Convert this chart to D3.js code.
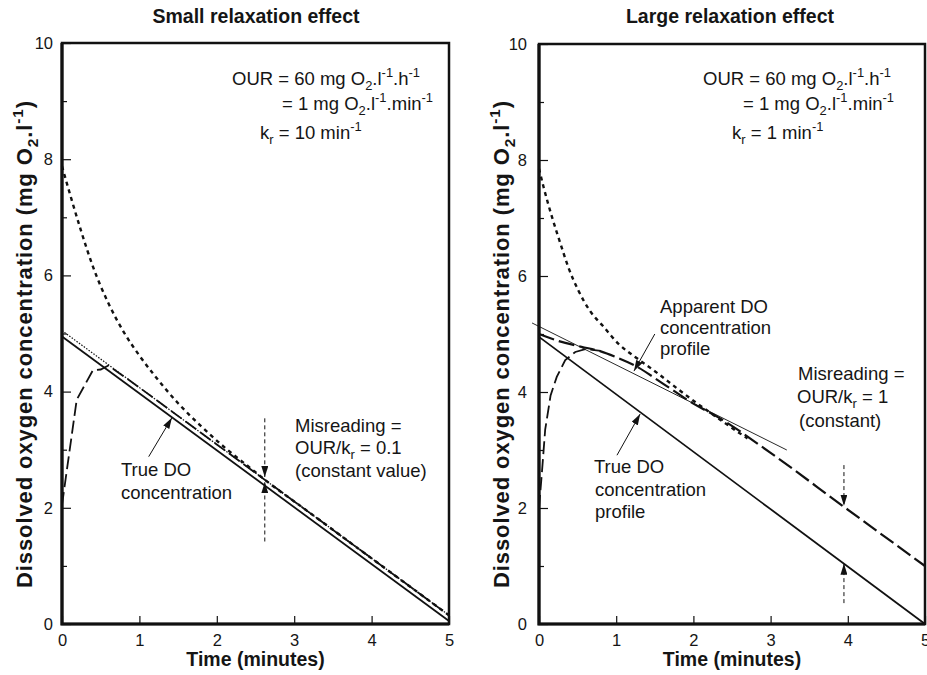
<!DOCTYPE html>
<html>
<head>
<meta charset="utf-8">
<script src="https://cdn.jsdelivr.net/npm/d3@7"></script>
<style>
  body { margin: 0; background: #fff; }
  text { font-family: "Liberation Sans", Arial, Helvetica, sans-serif; fill: #151515; }
</style>
</head>
<body>
<svg id="chart" width="927" height="675"></svg>
<script>
// ---- values (time in minutes, DO in mg O2/l) ----
const timeTicks = [0, 1, 2, 3, 4, 5];
const doMajorTicks = [0, 2, 4, 6, 8, 10];
const doMinorTicks = [1, 3, 5, 7, 9];

// small relaxation effect (kr = 10 min-1)
const smallTrue = [[0, 4.95], [5, 0.05]];
const smallApparentFromTrue = [[0, 5.05], [5, 0.15]];
const smallApparentFromLow = [[0, 2.05], [0.19, 3.86], [0.4, 4.37], [0.5, 4.38], [0.6, 4.45], [1, 4.07], [2, 3.09], [3, 2.11], [4, 1.13], [5, 0.15]];
const smallApparentFromHigh = [[0, 7.88], [0.125, 7.3], [0.25, 6.75], [0.4, 6.15], [0.6, 5.52], [0.8, 5.02], [1, 4.62], [1.2, 4.27], [1.5, 3.8], [1.8, 3.4], [2.1, 3.04], [2.4, 2.72], [2.7, 2.4], [3, 2.11], [4, 1.13], [5, 0.15]];

// large relaxation effect (kr = 1 min-1)
const largeTrue = [[0, 4.95], [5, 0]];
const largeApparent = [[0, 5.0], [0.25, 4.88], [0.55, 4.78], [0.8, 4.7], [1, 4.6], [1.25, 4.45], [1.6, 4.15], [2, 3.8], [2.34, 3.55], [3, 2.95], [3.95, 2.02], [5, 1.0]];
const largeApparentFromLow = [[0, 2.0], [0.04, 2.65], [0.08, 3.35], [0.15, 3.94], [0.23, 4.26], [0.34, 4.55], [0.47, 4.69], [0.6, 4.74], [0.8, 4.71]];
const largeApparentFromHigh = [[0, 7.85], [0.06, 7.53], [0.17, 7.01], [0.28, 6.55], [0.38, 6.15], [0.51, 5.75], [0.66, 5.4], [0.84, 5.12], [1.03, 4.83], [1.25, 4.6], [1.53, 4.33], [1.8, 4.05], [2, 3.85], [2.2, 3.66], [2.5, 3.38], [2.7, 3.2]];
const largeTangent = [[-0.09, 5.19], [3.21, 3.0]];

// arrows: [t0, v0, t1, v1] (tip at t1, v1)
const smallArrows = [[1.12, 2.88, 1.42, 3.55]];
const smallMisreadArrows = [[2.62, 3.54, 2.62, 2.53], [2.62, 1.42, 2.62, 2.44]];
const largeArrows = [[1.01, 2.91, 1.31, 3.62], [1.5, 5.0, 1.23, 4.36]];
const largeMisreadArrows = [[3.95, 2.74, 3.95, 2.04], [3.95, 0.36, 3.95, 1.04]];

const svg = d3.select("#chart");

svg.append("defs").append("marker")
    .attr("id", "head")
    .attr("viewBox", "0 0 11 7")
    .attr("refX", 11)
    .attr("refY", 3.5)
    .attr("markerWidth", 11)
    .attr("markerHeight", 7)
    .attr("markerUnits", "userSpaceOnUse")
    .attr("orient", "auto")
  .append("path")
    .attr("d", "M0,0L11,3.5L0,7Z")
    .attr("fill", "#111");

// text with sub/superscripts: parts = [[string, "n"|"sub"|"sup"], ...]
function rich(sel, parts, fs) {
    let shift = 0;
    parts.forEach(function(p) {
        const target = p[1] === "sub" ? 0.26 * fs : p[1] === "sup" ? -0.42 * fs : 0;
        const ts = sel.append("tspan").text(p[0]).attr("dy", target - shift);
        if (p[1] !== "n") ts.attr("font-size", fs * 0.7);
        shift = target;
    });
}

function label(x, y, parts, fs, weight) {
    const t = svg.append("text")
        .attr("x", x).attr("y", y)
        .attr("font-size", fs)
        .attr("font-weight", weight || "normal");
    rich(t, parts, fs);
    return t;
}

function drawPanel(cfg) {
    const x = d3.scaleLinear().domain([0, 5]).range(cfg.xRange);
    const y = d3.scaleLinear().domain([0, 10]).range([624, cfg.top]);
    const g = svg.append("g");

    const line = d3.line().x(d => x(d[0])).y(d => y(d[1]));
    const smooth = d3.line().x(d => x(d[0])).y(d => y(d[1])).curve(d3.curveMonotoneX);

    cfg.series.forEach(function(s) {
        g.append("path")
            .attr("d", (s.smooth ? smooth : line)(s.data))
            .attr("fill", "none")
            .attr("stroke", "#111")
            .attr("stroke-width", s.width)
            .attr("stroke-dasharray", s.dash || null);
    });

    cfg.arrows.forEach(function(a) {
        g.append("line")
            .attr("x1", x(a[0])).attr("y1", y(a[1]))
            .attr("x2", x(a[2])).attr("y2", y(a[3]))
            .attr("stroke", "#111").attr("stroke-width", 1)
            .attr("marker-end", "url(#head)");
    });
    cfg.misread.forEach(function(a) {
        g.append("line")
            .attr("x1", x(a[0])).attr("y1", y(a[1]))
            .attr("x2", x(a[2])).attr("y2", y(a[3]))
            .attr("stroke", "#111").attr("stroke-width", 1)
            .attr("stroke-dasharray", "4,3")
            .attr("marker-end", "url(#head)");
    });

    // axes with inward ticks
    const yMinor = g.append("g").attr("transform", `translate(${cfg.xRange[0]},0)`)
        .call(d3.axisLeft(y).tickValues(doMinorTicks).tickSizeInner(-5).tickSizeOuter(0).tickFormat(""));
    const yMajor = g.append("g").attr("transform", `translate(${cfg.xRange[0]},0)`)
        .call(d3.axisLeft(y).tickValues(doMajorTicks).tickSizeInner(-9).tickSizeOuter(0)
            .tickPadding(cfg.labelGap).tickFormat(d3.format("d")));
    const xAx = g.append("g").attr("transform", "translate(0,624)")
        .call(d3.axisBottom(x).tickValues(timeTicks).tickSizeInner(-8).tickSizeOuter(0)
            .tickPadding(10).tickFormat(d3.format("d")));
    [yMinor, yMajor, xAx].forEach(function(a) {
        a.select(".domain").remove();
        a.selectAll("line").attr("stroke", "#111").attr("stroke-width", 1.2);
        a.selectAll("text").attr("font-size", 16.5).attr("fill", "#151515")
            .style("font-family", '"Liberation Sans", Arial, Helvetica, sans-serif');
    });

    g.append("rect")
        .attr("x", cfg.xRange[0]).attr("y", cfg.top)
        .attr("width", cfg.xRange[1] - cfg.xRange[0])
        .attr("height", 624 - cfg.top)
        .attr("fill", "none")
        .attr("stroke", "#111")
        .attr("stroke-width", 2.5);
    g.append("path")
        .attr("d", `M${cfg.xRange[0]},${cfg.top}V624H${cfg.xRange[1]}`)
        .attr("fill", "none").attr("stroke", "#111").attr("stroke-width", 3.2);

    const mid = (cfg.xRange[0] + cfg.xRange[1]) / 2;
    svg.append("text").attr("x", cfg.titleX).attr("y", 23)
        .attr("text-anchor", "middle").attr("font-size", 19.5).attr("font-weight", "bold")
        .text(cfg.title);
    svg.append("text").attr("x", mid).attr("y", 666)
        .attr("text-anchor", "middle").attr("font-size", 19.5).attr("font-weight", "bold")
        .text("Time (minutes)");
    const yl = svg.append("text")
        .attr("transform", `translate(${cfg.yLabelX},344) rotate(-90)`)
        .attr("text-anchor", "middle").attr("font-size", 22).attr("font-weight", "bold")
        .attr("letter-spacing", 0.9);
    rich(yl, [["Dissolved oxygen concentration (mg O", "n"], ["2", "sub"], [".l", "n"], ["-1", "sup"], [")", "n"]], 22);
}

drawPanel({
    xRange: [62, 449], top: 43, labelGap: 9, yLabelX: 32,
    title: "Small relaxation effect", titleX: 256,
    series: [
        { data: smallTrue, width: 1.8 },
        { data: smallApparentFromTrue, width: 1.2, dash: "1.5,1.5" },
        { data: smallApparentFromLow, width: 1.8, dash: "13,5" },
        { data: smallApparentFromHigh, width: 2.4, dash: "4,4", smooth: true }
    ],
    arrows: smallArrows,
    misread: smallMisreadArrows
});

drawPanel({
    xRange: [539, 925], top: 44, labelGap: 12, yLabelX: 509,
    title: "Large relaxation effect", titleX: 730,
    series: [
        { data: largeTangent, width: 0.9 },
        { data: largeTrue, width: 1.8 },
        { data: largeApparentFromLow, width: 1.8, dash: "13,5" },
        { data: largeApparent, width: 2.2, dash: "16,5", smooth: true },
        { data: largeApparentFromHigh, width: 2.4, dash: "4,4", smooth: true }
    ],
    arrows: largeArrows,
    misread: largeMisreadArrows
});

// annotations
const fs = 18.5;
label(232, 85, [["OUR = 60 mg O", "n"], ["2", "sub"], [".l", "n"], ["-1", "sup"], [".h", "n"], ["-1", "sup"]], fs);
label(282, 110, [["= 1 mg O", "n"], ["2", "sub"], [".l", "n"], ["-1", "sup"], [".min", "n"], ["-1", "sup"]], fs);
label(260, 139, [["k", "n"], ["r", "sub"], [" = 10 min", "n"], ["-1", "sup"]], fs);
label(295, 432, [["Misreading =", "n"]], fs);
label(295, 454, [["OUR/k", "n"], ["r", "sub"], [" = 0.1", "n"]], fs);
label(295, 477, [["(constant value)", "n"]], fs);
label(121, 476, [["True DO", "n"]], fs);
label(121, 499, [["concentration", "n"]], fs);

label(703, 85, [["OUR = 60 mg O", "n"], ["2", "sub"], [".l", "n"], ["-1", "sup"], [".h", "n"], ["-1", "sup"]], fs);
label(743, 110, [["= 1 mg O", "n"], ["2", "sub"], [".l", "n"], ["-1", "sup"], [".min", "n"], ["-1", "sup"]], fs);
label(732, 139, [["k", "n"], ["r", "sub"], [" = 1 min", "n"], ["-1", "sup"]], fs);
label(798, 380, [["Misreading =", "n"]], fs);
label(797, 403, [["OUR/k", "n"], ["r", "sub"], [" = 1", "n"]], fs);
label(799, 427, [["(constant)", "n"]], fs);
label(660, 313, [["Apparent DO", "n"]], fs);
label(660, 334, [["concentration", "n"]], fs);
label(660, 355, [["profile", "n"]], fs);
label(594, 473, [["True DO", "n"]], fs);
label(595, 496, [["concentration", "n"]], fs);
label(595, 518, [["profile", "n"]], fs);
</script>
</body>
</html>
